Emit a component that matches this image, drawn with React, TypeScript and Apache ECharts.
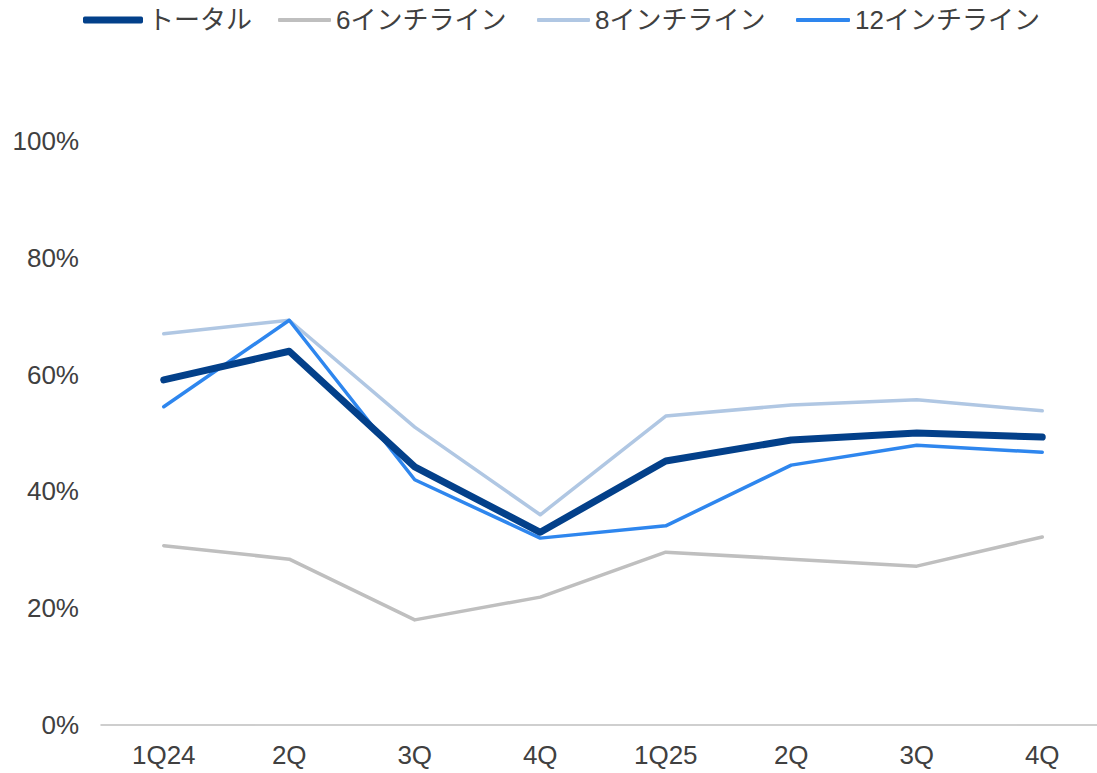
import React, { useEffect, useRef } from "react";
import * as echarts from "echarts";

const categories = ["1Q24", "2Q", "3Q", "4Q", "1Q25", "2Q", "3Q", "4Q"];
const seriesNames = ["トータル", "6インチライン", "8インチライン", "12インチライン"];
const total = [59.1, 64.0, 44.2, 33.0, 45.2, 48.8, 50.0, 49.3];
const inch6 = [30.7, 28.4, 18.0, 21.9, 29.6, 28.4, 27.2, 32.2];
const inch8 = [67.0, 69.3, 51.0, 36.0, 52.9, 54.8, 55.7, 53.8];
const inch12 = [54.5, 69.3, 42.0, 32.0, 34.1, 44.5, 47.9, 46.7];
const yTicks = [0, 20, 40, 60, 80, 100];

export default function App() {
  const ref = useRef<HTMLDivElement>(null);
  useEffect(() => {
    if (!ref.current) return;
    const chart = echarts.init(ref.current, null, { renderer: "svg" });
    const font = "Arial, 'Liberation Sans', 'Noto Sans CJK JP', sans-serif";
    const colors = ["#03408A", "#BFBFBF", "#B0C7E3", "#2E86EE"];
    const widths = [7, 3.5, 3.5, 3.5];
    const datas = [total, inch6, inch8, inch12];
    const legendLeft = [83, 278, 537, 796];
    const legendIconW = [60, 53, 53, 54];
    chart.setOption({
      animation: false,
      textStyle: { fontFamily: font },
      legend: seriesNames.map((n, i) => ({
        top: 7,
        left: legendLeft[i],
        padding: 0,
        itemWidth: legendIconW[i],
        itemHeight: i === 0 ? 7 : 4,
        icon: "roundRect",
        textStyle: { fontSize: 26, color: "#404040", fontFamily: font, padding: [0, 0, 0, 0] },
        data: [{ name: n, itemStyle: { color: colors[i] } }],
      })),
      grid: { left: 101, right: 5, top: 141, bottom: 48 },
      xAxis: {
        type: "category",
        data: categories,
        boundaryGap: true,
        axisLine: { lineStyle: { color: "#BFBFBF", width: 1.5 } },
        axisTick: { show: false },
        axisLabel: { fontSize: 26, color: "#404040", margin: 17, fontFamily: font },
      },
      yAxis: {
        type: "value",
        min: 0,
        max: 100,
        interval: 20,
        splitLine: { show: false },
        axisLine: { show: false },
        axisTick: { show: false },
        axisLabel: {
          fontSize: 26,
          color: "#404040",
          margin: 22,
          fontFamily: font,
          formatter: (v: number) => (yTicks.includes(v) ? v + "%" : ""),
        },
      },
      series: seriesNames.map((n, i) => ({
        name: n,
        type: "line",
        data: datas[i],
        symbol: "none",
        z: i === 0 ? 5 : i === 3 ? 4 : 3,
        lineStyle: { color: colors[i], width: widths[i], cap: "round", join: "round" },
        itemStyle: { color: colors[i] },
      })),
    });
    return () => chart.dispose();
  }, []);
  return (
    <div
      ref={ref}
      style={{ position: "fixed", left: 0, top: 0, width: 1110, height: 773, background: "#fff" }}
    />
  );
}
